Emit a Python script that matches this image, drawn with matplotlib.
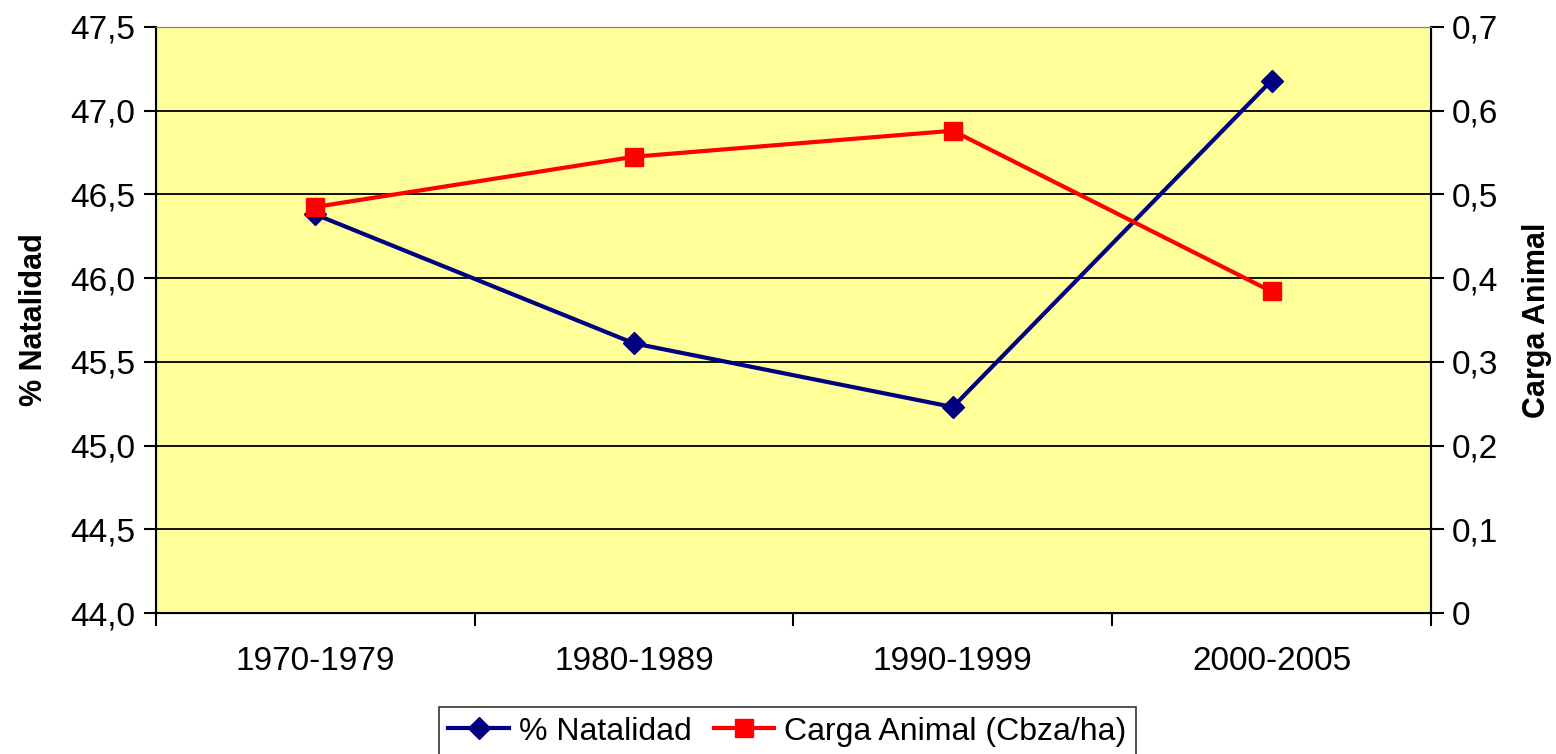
import matplotlib
matplotlib.use("Agg")
import matplotlib.pyplot as plt
from matplotlib.ticker import FuncFormatter, FixedLocator

plt.rcParams['font.family'] = ['Liberation Sans', 'DejaVu Sans']

periodos = ["1970-1979", "1980-1989", "1990-1999", "2000-2005"]
natalidad = [46.38, 45.61, 45.23, 47.18]
carga = [0.485, 0.545, 0.576, 0.384]

fs = 24
x = [i + 0.5 for i in range(len(periodos))]

fig = plt.figure(figsize=(15.56, 7.54), dpi=100)
ax = fig.add_axes([0.1003, 0.187, 0.8193, 0.7773])
ax.set_facecolor("#FFFF99")
ax2 = ax.twinx()

ax.set_xlim(0, 4)
ax.set_ylim(44.0, 47.5)
ax2.set_ylim(0, 0.7)

ax.set_yticks([44.0 + 0.5 * i for i in range(8)])
ax2.set_yticks([0.1 * i for i in range(8)])
ax.yaxis.set_major_formatter(FuncFormatter(lambda v, p: f"{v:.1f}".replace(".", ",")))
ax2.yaxis.set_major_formatter(FuncFormatter(lambda v, p: "0" if abs(v) < 1e-9 else f"{v:.1f}".replace(".", ",")))

ax.xaxis.set_major_locator(FixedLocator([0, 1, 2, 3, 4]))
ax.xaxis.set_minor_locator(FixedLocator(x))
ax.set_xticklabels([])
ax.set_xticklabels(periodos, minor=True)
ax.tick_params(axis="x", which="minor", length=0, pad=24, labelsize=fs)
ax.tick_params(axis="x", which="major", length=9, width=1.5, direction="out")
ax.tick_params(axis="y", length=9, width=1.5, labelsize=fs, pad=6)
ax2.tick_params(axis="y", length=9, width=1.5, labelsize=fs, pad=6)

ax.grid(axis="y", color="black", linewidth=1.3)
ax.set_axisbelow(True)

for sp in ["left", "bottom"]:
    ax.spines[sp].set_linewidth(1.5)
ax2.spines["right"].set_linewidth(1.5)
ax2.spines["top"].set_color("#808080")
ax.spines["top"].set_color("#808080")

l1, = ax.plot(x, natalidad, color="#000080", linewidth=3, marker="D",
              markersize=11, label="% Natalidad", zorder=3)
l2, = ax2.plot(x, carga, color="#FF0000", linewidth=3, marker="s",
               markersize=13, label="Carga Animal (Cbza/ha)", zorder=3)

ax.set_ylabel("% Natalidad", fontsize=22, fontweight="bold", labelpad=15)
ax2.set_ylabel("Carga Animal", fontsize=22, fontweight="bold", labelpad=17)

leg = fig.legend(handles=[l1, l2], loc="lower center", bbox_to_anchor=(0.506, -0.024),
                 ncol=2, fontsize=23, frameon=True, fancybox=False,
                 edgecolor="black", handlelength=1.9, handletextpad=0.3,
                 columnspacing=0.7, borderpad=0.3)
leg.get_frame().set_linewidth(1.2)

fig.savefig("out.png", dpi=100)
